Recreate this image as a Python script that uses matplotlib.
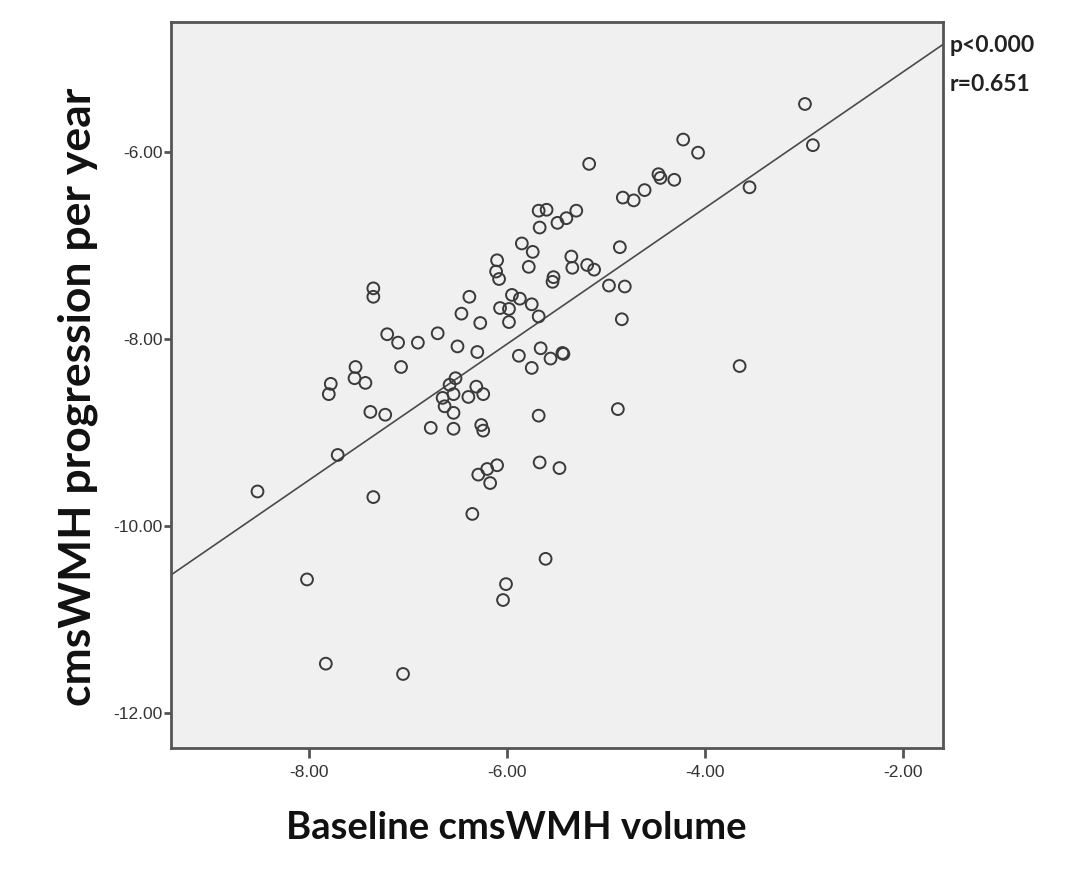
#!/usr/bin/env python3
"""Scatter of baseline cmsWMH volume vs yearly progression, with a linear fit."""

import matplotlib

matplotlib.use("Agg")
import matplotlib.pyplot as plt  # noqa: E402
import numpy as np  # noqa: E402

# values
baseline = [
    -8.52, -8.02, -7.83, -7.78, -7.80, -7.71, -7.53, -7.54, -7.43, -7.35,
    -7.35, -7.38, -7.35, -7.23, -7.21, -7.10, -7.07, -7.05, -6.90, -6.77,
    -6.70, -6.65, -6.63, -6.58, -6.52, -6.54, -6.54, -6.54, -6.50, -6.46,
    -6.38, -6.39, -6.35, -6.31, -6.30, -6.27, -6.26, -6.24, -6.24, -6.29,
    -6.20, -6.17, -6.10, -6.10, -6.11, -6.08, -6.07, -5.98, -5.98, -5.95,
    -5.87, -5.88, -5.85, -5.78, -5.74, -5.75, -5.75, -5.68, -5.60, -5.67,
    -5.49, -5.40, -5.30, -5.68, -5.66, -5.56, -5.43, -5.44, -5.68, -5.67,
    -5.47, -5.61, -6.01, -6.04, -5.35, -5.34, -5.19, -5.12, -5.53, -5.54,
    -5.17, -4.97, -4.81, -4.84, -4.86, -4.88, -4.83, -4.72, -4.61, -4.47,
    -4.45, -4.31, -4.22, -4.07, -3.65, -3.55, -2.99, -2.91,
]
progression = [
    -9.63, -10.57, -11.47, -8.48, -8.59, -9.24, -8.30, -8.42, -8.47, -7.46,
    -7.55, -8.78, -9.69, -8.81, -7.95, -8.04, -8.30, -11.58, -8.04, -8.95,
    -7.94, -8.63, -8.72, -8.49, -8.42, -8.59, -8.79, -8.96, -8.08, -7.73,
    -7.55, -8.62, -9.87, -8.51, -8.14, -7.83, -8.92, -8.98, -8.59, -9.45,
    -9.39, -9.54, -9.35, -7.16, -7.28, -7.36, -7.67, -7.68, -7.82, -7.53,
    -7.57, -8.18, -6.98, -7.23, -7.07, -7.63, -8.31, -6.63, -6.62, -6.81,
    -6.76, -6.71, -6.63, -7.76, -8.10, -8.21, -8.16, -8.15, -8.82, -9.32,
    -9.38, -10.35, -10.62, -10.79, -7.12, -7.24, -7.21, -7.26, -7.34, -7.39,
    -6.13, -7.43, -7.44, -7.79, -7.02, -8.75, -6.49, -6.52, -6.41, -6.24,
    -6.28, -6.30, -5.87, -6.01, -8.29, -6.38, -5.49, -5.93,
]
x_ticks = [-8.0, -6.0, -4.0, -2.0]
y_ticks = [-12.0, -10.0, -8.0, -6.0]
p_text = "p<0.000"
r_text = "r=0.651"

x = np.array(baseline)
y = np.array(progression)
slope, intercept = np.polyfit(x, y, 1)

fig = plt.figure(figsize=(10.87, 8.76), dpi=100)
ax = fig.add_axes([0.1573, 0.1458, 0.7102, 0.8294])
ax.set_facecolor("#f0f0f0")

xlim = (-9.394, -1.596)
ax.set_xlim(*xlim)
ax.set_ylim(-12.374, -4.611)

xs = np.array(xlim)
ax.plot(xs, slope * xs + intercept, color="#4a4a4a", linewidth=1.2, zorder=2)
ax.scatter(x, y, s=72, facecolors="none", edgecolors="#3a3a3a", linewidths=1.4, zorder=3)

for side in ("top", "right", "bottom", "left"):
    ax.spines[side].set_color("#555555")
    ax.spines[side].set_linewidth(2.0)

ax.set_xticks(x_ticks)
ax.set_xticklabels([f"{t:.2f}" for t in x_ticks])
ax.set_yticks(y_ticks)
ax.set_yticklabels([f"{t:.2f}" for t in y_ticks])
ax.tick_params(axis="x", length=7, width=2, color="#555555", labelsize=12.5,
               labelcolor="#333333", pad=5)
ax.tick_params(axis="y", length=5, width=2, color="#555555", labelsize=12.5,
               labelcolor="#333333", pad=1)
for lab in ax.get_xticklabels() + ax.get_yticklabels():
    lab.set_fontfamily("Liberation Sans")

ax.set_xlabel("Baseline cmsWMH volume", fontsize=27.5, fontweight="bold",
              family="Lato", color="#111111")
ax.xaxis.label.set_va("center")
ax.xaxis.set_label_coords(0.447, -0.1097)
ax.set_ylabel("cmsWMH progression per year", fontsize=32, fontweight="bold",
              family="Lato", color="#111111")
ax.yaxis.label.set_va("center")
ax.yaxis.set_label_coords(-0.1205, 0.4835)

fig.text(0.874, 0.9486, p_text, ha="left", va="center", fontsize=16.5,
         fontweight="bold", family="Lato", color="#222222")
fig.text(0.874, 0.9041, r_text, ha="left", va="center", fontsize=16.5,
         fontweight="bold", family="Lato", color="#222222")

fig.savefig("out.png", dpi=100, facecolor="white")
plt.close(fig)
